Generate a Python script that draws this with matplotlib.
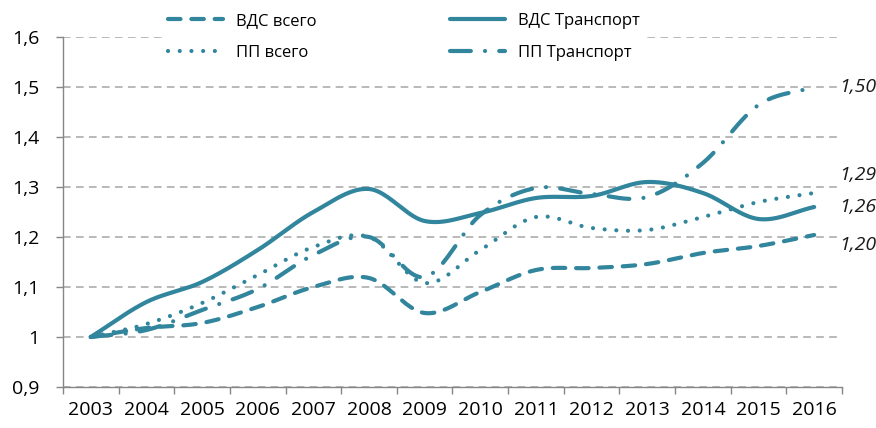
import numpy as np
import matplotlib
matplotlib.use('Agg')
import matplotlib.pyplot as plt
from matplotlib.ticker import FuncFormatter

plt.rcParams['font.family'] = ['Open Sans', 'DejaVu Sans']

# data
years = ['2003', '2004', '2005', '2006', '2007', '2008', '2009',
         '2010', '2011', '2012', '2013', '2014', '2015', '2016']
vds_total = [1.00, 1.018, 1.028, 1.060, 1.100, 1.118, 1.048,
             1.090, 1.134, 1.138, 1.146, 1.168, 1.182, 1.204]
vds_transport = [1.00, 1.070, 1.110, 1.174, 1.250, 1.296, 1.232,
                 1.248, 1.278, 1.282, 1.310, 1.288, 1.236, 1.260]
pp_total = [1.00, 1.026, 1.068, 1.124, 1.180, 1.200, 1.108,
            1.174, 1.240, 1.218, 1.214, 1.240, 1.270, 1.288]
pp_transport = [1.00, 1.014, 1.054, 1.096, 1.164, 1.200, 1.120,
                1.244, 1.298, 1.286, 1.280, 1.348, 1.464, 1.500]
end_labels = ['1,20', '1,26', '1,29', '1,50']

color = '#31859C'


# excel-like smoothed line (catmull-rom)
def smooth(y, n=24):
    y = np.asarray(y, dtype=float)
    x = np.arange(len(y), dtype=float)
    px = np.concatenate([[2 * x[0] - x[1]], x, [2 * x[-1] - x[-2]]])
    py = np.concatenate([[2 * y[0] - y[1]], y, [2 * y[-1] - y[-2]]])
    xs, ys = [], []
    t = np.linspace(0, 1, n, endpoint=False)
    for i in range(1, len(px) - 2):
        for p, out in ((px, xs), (py, ys)):
            p0, p1, p2, p3 = p[i - 1], p[i], p[i + 1], p[i + 2]
            out.append(0.5 * (2 * p1 + (-p0 + p2) * t
                              + (2 * p0 - 5 * p1 + 4 * p2 - p3) * t ** 2
                              + (-p0 + 3 * p1 - 3 * p2 + p3) * t ** 3))
    xs.append([x[-1]])
    ys.append([y[-1]])
    return np.concatenate(xs), np.concatenate(ys)


fig = plt.figure(figsize=(8.76, 4.28), dpi=100)
ax = fig.add_axes([63 / 876, 1 - 387 / 428, (842 - 63) / 876, (387 - 37) / 428])

lw = 3.0
# order chosen so the legend rows read ВДС / ПП
series = [
    (vds_total, 'ВДС всего', (3, 2.6)),
    (pp_total, 'ПП всего', (0.01, 2.8)),
    (vds_transport, 'ВДС Транспорт', None),
    (pp_transport, 'ПП Транспорт', (5.0, 3.4, 0.01, 3.4)),
]
for vals, name, dash in series:
    sx, sy = smooth(vals)
    line, = ax.plot(sx, sy, color=color, lw=lw, label=name,
                    solid_capstyle='round', dash_capstyle='round', zorder=3)
    if dash is not None:
        line.set_dashes(dash)

# labels at the line ends (offset in pixels, up is positive)
offsets = [-10, 0, 18, 0]
for vals, txt, dy in zip([vds_total, vds_transport, pp_total, pp_transport],
                         end_labels, offsets):
    ax.annotate(txt, xy=(len(vals) - 1, vals[-1]), xytext=(18, dy * 0.72),
                textcoords='offset points', ha='left', va='center',
                fontsize=14, style='italic', color='#1a1a1a',
                annotation_clip=False)

ax.set_xlim(-0.5, 13.5)
ax.set_ylim(0.9, 1.6)
ax.set_xticks(range(len(years)))
ax.set_xticklabels(years)
ax.set_xticks(np.arange(-0.5, 14, 1), minor=True)
ax.tick_params(axis='x', which='major', length=0, pad=10, labelsize=14)
ax.tick_params(axis='x', which='minor', length=5, color='#868686', width=1)
ax.set_yticks(np.arange(0.9, 1.61, 0.1))
ax.yaxis.set_major_formatter(FuncFormatter(
    lambda v, p: ('%.1f' % v).replace('.', ',') if abs(v - 1) > 1e-6 else '1'))
ax.tick_params(axis='y', length=5, color='#868686', width=1, labelsize=14, pad=12)

ax.yaxis.grid(True, color='#A6A6A6', linestyle=(0, (5, 3.5)), lw=1.1)
ax.set_axisbelow(True)
for s in ['top', 'right']:
    ax.spines[s].set_visible(False)
for s in ['left', 'bottom']:
    ax.spines[s].set_color('#868686')
    ax.spines[s].set_linewidth(1)

leg = ax.legend(loc='center', bbox_to_anchor=(0.461, 1 - 37 / 428),
                bbox_transform=fig.transFigure, ncol=2, frameon=True,
                fontsize=12, handlelength=3.3, handletextpad=0.8,
                columnspacing=8.0, labelspacing=0.95, borderpad=0.2)
leg.get_frame().set_facecolor('white')
leg.get_frame().set_edgecolor('none')
leg.get_frame().set_alpha(1)

plt.savefig('out.png', dpi=100)
